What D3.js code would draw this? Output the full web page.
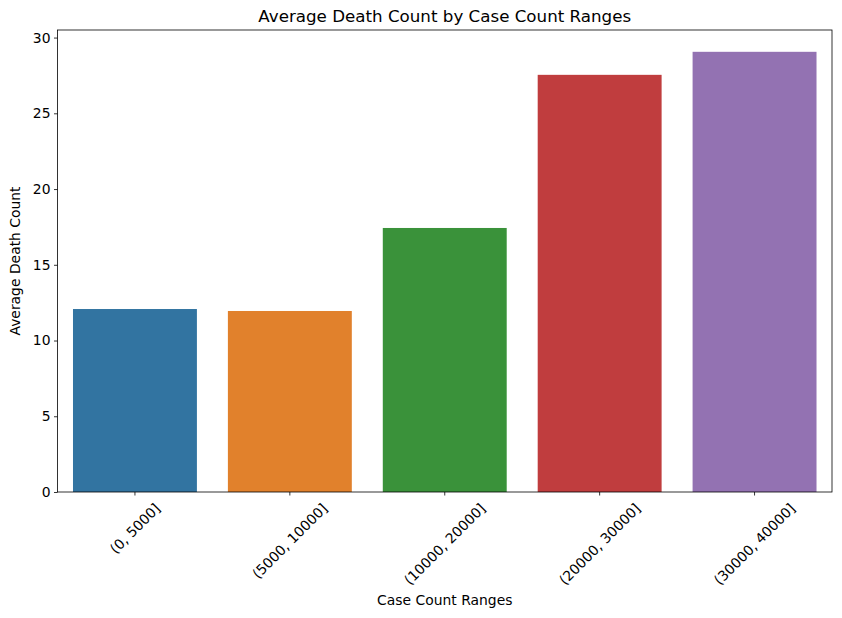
<!DOCTYPE html>
<html>
<head>
<meta charset="utf-8">
<script src="https://cdn.jsdelivr.net/npm/d3@7"></script>
<style>
  body { margin: 0; background: #fff; }
  text { font-family: "DejaVu Sans", sans-serif; fill: #000; }
</style>
</head>
<body>
<svg id="chart" width="842" height="618"></svg>
<script>
var categories = ['(0, 5000]', '(5000, 10000]', '(10000, 20000]', '(20000, 30000]', '(30000, 40000]'];
var avgDeaths = [12.08, 11.95, 17.43, 27.54, 29.06];
var barColors = ['#3274a1', '#e1812c', '#3a923a', '#c03d3e', '#9372b2'];
var yTicks = [0, 5, 10, 15, 20, 25, 30];

var svg = d3.select('#chart');
var margin = { top: 30, right: 10, bottom: 126, left: 57.5 };
var width = 842 - margin.left - margin.right;
var height = 618 - margin.top - margin.bottom;

var x = d3.scaleBand().domain(categories).range([0, width]).paddingInner(0.2).paddingOuter(0.1);
var y = d3.scaleLinear().domain([0, 30.5]).range([height, 0]);

var g = svg.append('g').attr('transform', `translate(${margin.left},${margin.top})`);

g.selectAll('.bar')
  .data(avgDeaths)
  .enter()
  .append('rect')
  .classed('bar', true)
  .attr('x', (d, i) => x(categories[i]))
  .attr('y', d => y(d))
  .attr('width', x.bandwidth())
  .attr('height', d => height - y(d))
  .attr('fill', (d, i) => barColors[i]);

// axes
var yAxis = g.append('g')
  .call(d3.axisLeft(y).tickValues(yTicks).tickSize(3.5).tickPadding(3.5));
var xAxis = g.append('g')
  .attr('transform', `translate(0,${height})`)
  .call(d3.axisBottom(x).tickSize(3.5).tickPadding(3.5));

[xAxis, yAxis].forEach(function (ax) {
  ax.select('.domain').remove();
  ax.selectAll('line').attr('stroke', '#000').attr('stroke-width', 0.8);
  ax.selectAll('text').style('font-size', '13.9px').style('font-family', '"DejaVu Sans", sans-serif');
});

// rotate x tick labels about their centre, top of rotated box below the tick
xAxis.selectAll('.tick text').each(function () {
  var t = d3.select(this);
  var len = this.getComputedTextLength();
  var h = 13.9;
  var half = (len + h) * Math.SQRT1_2 / 2;
  t.attr('y', null).attr('dy', '0.35em')
    .attr('text-anchor', 'middle')
    .attr('transform', `translate(0,${7 + half + 2}) rotate(-45)`);
});

// frame
g.append('rect')
  .attr('width', width)
  .attr('height', height)
  .attr('fill', 'none')
  .attr('stroke', '#000')
  .attr('stroke-width', 0.8);

// labels
svg.append('text')
  .attr('x', margin.left + width / 2)
  .attr('y', 22)
  .attr('text-anchor', 'middle')
  .style('font-size', '16.7px')
  .text('Average Death Count by Case Count Ranges');

svg.append('text')
  .attr('x', margin.left + width / 2)
  .attr('y', 605)
  .attr('text-anchor', 'middle')
  .style('font-size', '13.9px')
  .text('Case Count Ranges');

svg.append('text')
  .attr('transform', `translate(20,${margin.top + height / 2}) rotate(-90)`)
  .attr('text-anchor', 'middle')
  .style('font-size', '13.9px')
  .text('Average Death Count');
</script>
</body>
</html>
